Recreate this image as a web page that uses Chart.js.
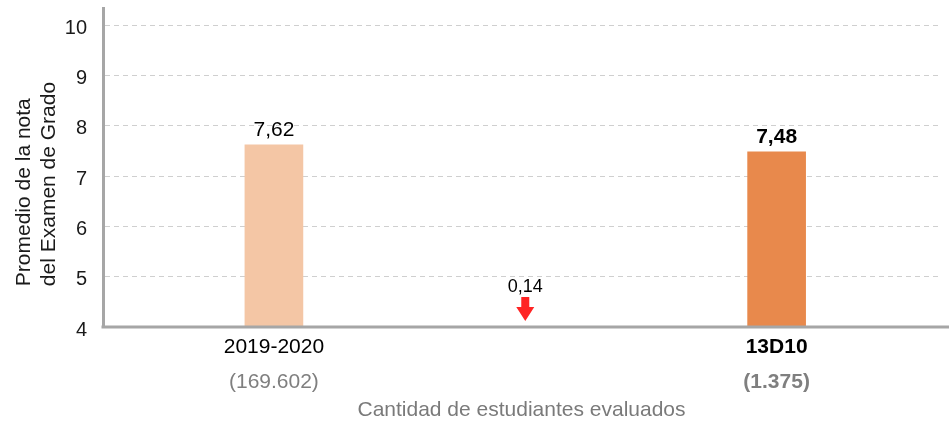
<!DOCTYPE html>
<html>
<head>
<meta charset="utf-8">
<script src="https://cdn.jsdelivr.net/npm/chart.js@4/dist/chart.umd.min.js"></script>
<style>
  html, body { margin: 0; padding: 0; background: #ffffff; }
  #wrap { width: 949px; height: 421px; }
</style>
</head>
<body>
<div id="wrap"><canvas id="c" width="949" height="421"></canvas></div>
<script>
// ---- data ----
const categories = ['2019-2020', '13D10'];
const studentCounts = ['(169.602)', '(1.375)'];
const averages = [7.62, 7.48];
const yTickValues = [4, 5, 6, 7, 8, 9, 10];
const yAxisTitle = ['Promedio de la nota', 'del Examen de Grado'];
const xAxisTitle = 'Cantidad de estudiantes evaluados';

// ---- styling ----
const FONT = "'Liberation Sans', Arial, Helvetica, sans-serif";
const barColors = ['#f4c6a5', '#e8894c'];
const axisColor = '#a6a6a6';
const gridColor = '#cfcfcf';
const highlight = categories.length - 1;   // last (current) category is bold
const fmt = v => v.toFixed(2).replace('.', ',');
const lead = '\u00a0'.repeat(7);

// categories are placed on every other slot; the slot between holds the difference arrow
const barData = averages.map((v, i) => ({ x: i * 2, y: v }));
const xTickValues = categories.map((c, i) => ({ value: i * 2 }));

const annotations = {
  id: 'annotations',
  afterDatasetsDraw(chart) {
    const ctx = chart.ctx;
    const meta = chart.getDatasetMeta(0);
    const ca = chart.chartArea;
    ctx.save();
    ctx.textAlign = 'center';
    ctx.textBaseline = 'alphabetic';
    ctx.fillStyle = '#000000';
    meta.data.forEach((el, i) => {
      ctx.font = (i === highlight ? 'bold ' : '') + '21px ' + FONT;
      ctx.fillText(fmt(averages[i]), el.x, el.y - 9);
    });
    // difference arrow between the two bars
    const diff = averages[averages.length - 1] - averages[0];
    const cx = chart.scales.x.getPixelForValue(1);
    const b = ca.bottom;
    ctx.font = '18px ' + FONT;
    ctx.fillText(fmt(Math.abs(diff)), cx, b - 35);
    ctx.fillStyle = diff < 0 ? '#ff2424' : '#2ca02c';
    ctx.beginPath();
    if (diff < 0) {
      ctx.moveTo(cx - 4, b - 30);
      ctx.lineTo(cx + 4, b - 30);
      ctx.lineTo(cx + 4, b - 20);
      ctx.lineTo(cx + 9, b - 20);
      ctx.lineTo(cx, b - 6);
      ctx.lineTo(cx - 9, b - 20);
      ctx.lineTo(cx - 4, b - 20);
    } else {
      ctx.moveTo(cx - 4, b - 6);
      ctx.lineTo(cx + 4, b - 6);
      ctx.lineTo(cx + 4, b - 16);
      ctx.lineTo(cx + 9, b - 16);
      ctx.lineTo(cx, b - 30);
      ctx.lineTo(cx - 9, b - 16);
      ctx.lineTo(cx - 4, b - 16);
    }
    ctx.closePath();
    ctx.fill();
    ctx.restore();
  },
  afterDraw(chart) {
    // x axis line drawn over bar bases, running to the canvas edge
    const ctx = chart.ctx;
    const ca = chart.chartArea;
    ctx.save();
    ctx.strokeStyle = axisColor;
    ctx.lineWidth = 3;
    ctx.beginPath();
    ctx.moveTo(ca.left - 1.5, ca.bottom);
    ctx.lineTo(chart.width, ca.bottom);
    ctx.stroke();
    ctx.restore();
  }
};

new Chart(document.getElementById('c'), {
  type: 'bar',
  data: {
    datasets: [{
      data: barData,
      backgroundColor: barColors,
      borderWidth: 0,
      barThickness: 58,
      xAxisID: 'x',
      yAxisID: 'y'
    }]
  },
  options: {
    responsive: false,
    animation: false,
    layout: { padding: { top: 8, right: 9, bottom: 0, left: 0 } },
    plugins: { legend: { display: false }, tooltip: { enabled: false } },
    scales: {
      x: {
        type: 'linear',
        position: 'bottom',
        weight: 0,
        min: -0.68,
        max: 2.65,
        offset: false,
        afterBuildTicks: s => { s.ticks = xTickValues.map(t => ({ value: t.value })); },
        afterFit: s => { s.height = 39; s.paddingLeft = 0; s.paddingRight = 0; },
        grid: { display: false, drawTicks: false, offset: false },
        border: { display: false },
        ticks: {
          autoSkip: false,
          maxRotation: 0,
          padding: 8,
          color: '#000000',
          font: ctx => ({ family: FONT, size: 21, weight: ctx.index === highlight ? 'bold' : 'normal' }),
          callback: (value, index) => categories[index]
        }
      },
      x2: {
        type: 'linear',
        position: 'bottom',
        weight: 1,
        min: -0.68,
        max: 2.65,
        offset: false,
        afterBuildTicks: s => { s.ticks = xTickValues.map(t => ({ value: t.value })); },
        afterFit: s => { s.height = 55; s.paddingLeft = 0; s.paddingRight = 0; },
        grid: { display: false, drawTicks: false, offset: false },
        border: { display: false },
        ticks: {
          autoSkip: false,
          maxRotation: 0,
          padding: 4,
          color: '#7f7f7f',
          font: ctx => ({ family: FONT, size: 21, weight: ctx.index === highlight ? 'bold' : 'normal' }),
          callback: (value, index) => studentCounts[index]
        },
        title: {
          display: true,
          text: xAxisTitle,
          color: '#7a7a7a',
          font: { family: FONT, size: 21, lineHeight: 1 },
          padding: { top: 0, bottom: 0 }
        }
      },
      y: {
        type: 'linear',
        position: 'left',
        min: 4,
        max: 10.34,
        afterBuildTicks: s => { s.ticks = yTickValues.map(v => ({ value: v })); },
        afterFit: s => { s.width = 103; s.paddingTop = 0; s.paddingBottom = 0; },
        grid: { color: gridColor, lineWidth: 1, drawTicks: false },
        border: { display: true, color: axisColor, width: 3, dash: [5, 4] },
        ticks: {
          padding: 16,
          labelOffset: 3,
          color: '#1a1a1a',
          font: { family: FONT, size: 20 },
          callback: v => String(v)
        },
        title: {
          display: true,
          text: yAxisTitle.map(t => lead + t),
          align: 'start',
          color: '#1a1a1a',
          font: { family: FONT, size: 21, lineHeight: 25 / 21 },
          padding: { top: 12, bottom: 0 }
        }
      }
    }
  },
  plugins: [annotations]
});
</script>
</body>
</html>
